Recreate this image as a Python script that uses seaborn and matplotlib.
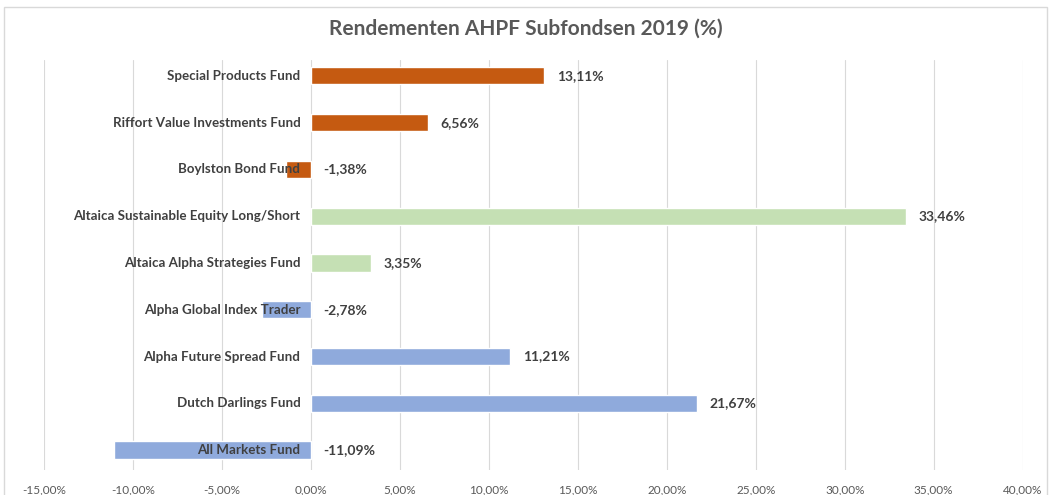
import matplotlib.pyplot as plt
import pandas as pd
import seaborn as sns
from matplotlib.patches import Rectangle
from matplotlib.ticker import FuncFormatter

sns.set_style("white")
plt.rcParams["font.family"] = ["Lato", "DejaVu Sans"]

funds = [
    "Special Products Fund",
    "Riffort Value Investments Fund",
    "Boylston Bond Fund",
    "Altaica Sustainable Equity Long/Short",
    "Altaica Alpha Strategies Fund",
    "Alpha Global Index Trader",
    "Alpha Future Spread Fund",
    "Dutch Darlings Fund",
    "All Markets Fund",
]
returns = [13.11, 6.56, -1.38, 33.46, 3.35, -2.78, 11.21, 21.67, -11.09]
groups = ["A", "A", "A", "B", "B", "C", "C", "C", "C"]
group_colors = {"A": "#C55A11", "B": "#C5E0B4", "C": "#8FAADC"}
ticks = [-15, -10, -5, 0, 5, 10, 15, 20, 25, 30, 35, 40]

df = pd.DataFrame({"Fund": funds, "Return": returns, "Group": groups})

fig = plt.figure(figsize=(10.51, 4.95), dpi=100)
ax = fig.add_axes([0.042, 0.05, 0.931, 0.829])

sns.barplot(
    data=df,
    x="Return",
    y="Fund",
    hue="Group",
    palette=group_colors,
    saturation=1,
    dodge=False,
    width=0.37,
    orient="h",
    legend=False,
    ax=ax,
)

ax.set_xlim(-15, 40)
ax.set_ylim(8.43, -0.34)
ax.set_xticks(ticks)
ax.xaxis.set_major_formatter(FuncFormatter(lambda v, _: f"{v:.2f}%".replace(".", ",")))
ax.tick_params(axis="x", labelsize=8.5, colors="#595959", length=0, pad=10)
ax.set_yticks([])
ax.set_xlabel("")
ax.set_ylabel("")
ax.grid(axis="x", color="#D9D9D9", linewidth=0.8)
ax.set_axisbelow(True)
for s in ax.spines.values():
    s.set_visible(False)

for i, (name, val) in enumerate(zip(funds, returns)):
    ax.text(-0.6, i, name, ha="right", va="center", fontsize=9.6,
            fontweight="bold", color="#404040")
    ax.text(max(val, 0) + 0.7, i, f"{val:.2f}%".replace(".", ","),
            ha="left", va="center", fontsize=10, fontweight="bold", color="#404040")

fig.suptitle("Rendementen AHPF Subfondsen 2019 (%)", y=0.962, fontsize=15,
             fontweight="bold", color="#595959")

fig.patches.append(Rectangle((0.004, -0.01), 0.992, 0.995, transform=fig.transFigure,
                             fill=False, edgecolor="#D9D9D9", linewidth=1))

plt.savefig("out.png", dpi=100)
plt.close()
